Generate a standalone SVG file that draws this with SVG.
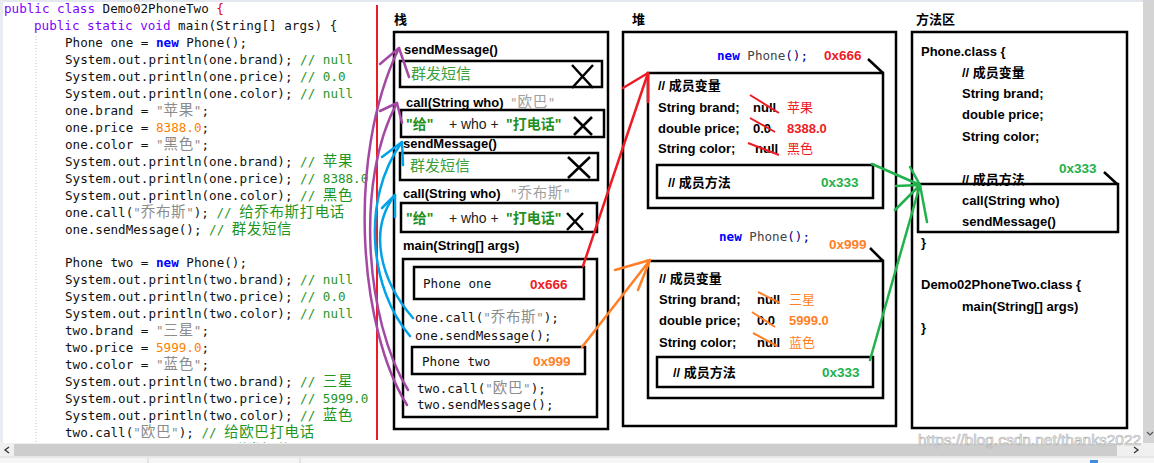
<svg xmlns="http://www.w3.org/2000/svg" width="1154" height="463" viewBox="0 0 1154 463">
<defs>
<style>
.code{font-family:"DejaVu Sans Mono","Liberation Mono","Noto Sans CJK SC",monospace;font-size:12.6px;fill:#111;}
.kw{fill:#8000ff}
.nw{fill:#0000ff;font-weight:bold}
.str{fill:#8c8c8c}
.gstr{fill:#a0a0a0}
.num{fill:#ff8000}
.cm{fill:#1f961f}
.cj{font-family:"Noto Sans CJK SC",sans-serif;font-size:14.5px;letter-spacing:0.6px}
.lbl{font-family:"Liberation Sans","Noto Sans CJK SC",sans-serif;font-size:13px;font-weight:bold;fill:#000}
.box{fill:none;stroke:#000;stroke-width:2.5}
.addr{font-family:"Liberation Sans",sans-serif;font-size:13.5px;font-weight:bold}
.cross{stroke:#000;stroke-width:2.5;fill:none}
.conn{fill:none;stroke-width:2.5;stroke-linecap:round;stroke-linejoin:round}
</style>
</defs>
<rect width="1154" height="463" fill="#fff"/>
<rect x="0" y="0" width="1154" height="2" fill="#e3e8ef"/>
<rect x="0" y="0" width="3" height="443" fill="#e8ecf2"/>
<line x1="36" y1="36" x2="36" y2="443" stroke="#c8c8c8" stroke-dasharray="1 2"/>

<g id="code">
<text class="code" x="4" y="13"><tspan class="kw">public class</tspan> Demo02PhoneTwo <tspan fill="#e00000" style="fill:#e00000">{</tspan></text>
<text class="code" x="34" y="30"><tspan class="kw">public static void</tspan> main(String[] args) {</text>
<text class="code" x="65" y="47">Phone one = <tspan class="nw">new</tspan> Phone();</text>
<text class="code" x="65" y="64">System.out.println(one.brand); <tspan class="cm">// null</tspan></text>
<text class="code" x="65" y="81">System.out.println(one.price); <tspan class="cm">// 0.0</tspan></text>
<text class="code" x="65" y="98">System.out.println(one.color); <tspan class="cm">// null</tspan></text>
<text class="code" x="65" y="115">one.brand = <tspan class="str">"<tspan class="cj">苹果</tspan>"</tspan>;</text>
<text class="code" x="65" y="132">one.price = <tspan class="num">8388.0</tspan>;</text>
<text class="code" x="65" y="149">one.color = <tspan class="str">"<tspan class="cj">黑色</tspan>"</tspan>;</text>
<text class="code" x="65" y="166">System.out.println(one.brand); <tspan class="cm">// <tspan class="cj">苹果</tspan></tspan></text>
<text class="code" x="65" y="182.5">System.out.println(one.price); <tspan class="cm">// 8388.0</tspan></text>
<text class="code" x="65" y="199.5">System.out.println(one.color); <tspan class="cm">// <tspan class="cj">黑色</tspan></tspan></text>
<text class="code" x="65" y="216.5">one.call(<tspan class="str">"<tspan class="cj">乔布斯</tspan>"</tspan>); <tspan class="cm">// <tspan class="cj">给乔布斯打电话</tspan></tspan></text>
<text class="code" x="65" y="233.5">one.sendMessage(); <tspan class="cm">// <tspan class="cj">群发短信</tspan></tspan></text>
<text class="code" x="65" y="267">Phone two = <tspan class="nw">new</tspan> Phone();</text>
<text class="code" x="65" y="284">System.out.println(two.brand); <tspan class="cm">// null</tspan></text>
<text class="code" x="65" y="301">System.out.println(two.price); <tspan class="cm">// 0.0</tspan></text>
<text class="code" x="65" y="318">System.out.println(two.color); <tspan class="cm">// null</tspan></text>
<text class="code" x="65" y="335">two.brand = <tspan class="str">"<tspan class="cj">三星</tspan>"</tspan>;</text>
<text class="code" x="65" y="352">two.price = <tspan class="num">5999.0</tspan>;</text>
<text class="code" x="65" y="369">two.color = <tspan class="str">"<tspan class="cj">蓝色</tspan>"</tspan>;</text>
<text class="code" x="65" y="386">System.out.println(two.brand); <tspan class="cm">// <tspan class="cj">三星</tspan></tspan></text>
<text class="code" x="65" y="403">System.out.println(two.price); <tspan class="cm">// 5999.0</tspan></text>
<text class="code" x="65" y="420">System.out.println(two.color); <tspan class="cm">// <tspan class="cj">蓝色</tspan></tspan></text>
<text class="code" x="65" y="437">two.call(<tspan class="str">"<tspan class="cj">欧巴</tspan>"</tspan>); <tspan class="cm">// <tspan class="cj">给欧巴打电话</tspan></tspan></text>
<text class="code" x="65" y="455">two.sendMessage(); <tspan class="cm">// <tspan class="cj">群发短信</tspan></tspan></text>
</g>

<line x1="377" y1="5" x2="377" y2="440" stroke="#ed1c24" stroke-width="2"/>

<g id="stack">
<text class="lbl" x="394" y="24">栈</text>
<rect class="box" x="394" y="32" width="214" height="397"/>
<text class="lbl" x="404" y="54">sendMessage()</text>
<rect class="box" x="400" y="61" width="202" height="26"/>
<text x="411" y="79" font-family="Noto Sans CJK SC,sans-serif" font-size="15" fill="#3ca03c">群发短信</text>
<path class="cross" d="M572,65 L593,88 M593,65 L572,88"/>
<text class="lbl" x="406" y="107">call(String who)</text>
<text class="code gstr" x="510" y="107">"<tspan class="cj">欧巴</tspan>"</text>
<rect class="box" x="401" y="110" width="203" height="27"/>
<text x="406" y="129" font-family="Liberation Sans,Noto Sans CJK SC,sans-serif" font-size="14" fill="#222"><tspan font-weight="bold" fill="#1f8f1f">"给"</tspan><tspan x="445"> + who +</tspan><tspan x="506" font-weight="bold" fill="#1f8f1f">"打电话"</tspan></text>
<path class="cross" d="M574,117 L592,135 M592,117 L574,135"/>
<text class="lbl" x="403" y="148">sendMessage()</text>
<rect class="box" x="400" y="153" width="198" height="27"/>
<text x="410" y="171" font-family="Noto Sans CJK SC,sans-serif" font-size="15" fill="#3ca03c">群发短信</text>
<path class="cross" d="M568,157 L590,178 M590,157 L568,178"/>
<text class="lbl" x="403" y="198">call(String who)</text>
<text class="code gstr" x="510" y="198">"<tspan class="cj">乔布斯</tspan>"</text>
<rect class="box" x="401" y="203" width="196" height="29"/>
<text x="406" y="223" font-family="Liberation Sans,Noto Sans CJK SC,sans-serif" font-size="14" fill="#222"><tspan font-weight="bold" fill="#1f8f1f">"给"</tspan><tspan x="445"> + who +</tspan><tspan x="506" font-weight="bold" fill="#1f8f1f">"打电话"</tspan></text>
<path class="cross" d="M567,213 L583,230 M583,213 L567,230"/>
<text class="lbl" x="403" y="250">main(String[] args)</text>
<rect class="box" x="403" y="259" width="194" height="158"/>
<rect class="box" x="414" y="267" width="170" height="32"/>
<text class="code" x="423" y="288">Phone one</text>
<text class="addr" x="530" y="289" fill="#ed1c24">0x666</text>
<text class="code" x="415" y="322">one.call(<tspan class="str">"<tspan class="cj">乔布斯</tspan>"</tspan>);</text>
<text class="code" x="415" y="340">one.sendMessage();</text>
<rect class="box" x="412" y="347" width="173" height="27"/>
<text class="code" x="422" y="366">Phone two</text>
<text class="addr" x="533" y="366" fill="#ff7f27">0x999</text>
<text class="code" x="417" y="393">two.call(<tspan class="str">"<tspan class="cj">欧巴</tspan>"</tspan>);</text>
<text class="code" x="417" y="409">two.sendMessage();</text>
</g>

<g id="heap">
<text class="lbl" x="632" y="24">堆</text>
<rect class="box" x="623" y="32" width="273" height="394"/>
</g>

<g id="heap-object-one">
<text class="code" x="717" y="60"><tspan class="nw">new</tspan> <tspan style="fill:#444">Phone</tspan><tspan style="fill:#000080">();</tspan></text>
<text class="addr" x="824" y="60" fill="#ed1c24">0x666</text>
<line x1="868" y1="59" x2="883" y2="73" stroke="#000" stroke-width="2.5"/>
<rect class="box" x="648" y="73" width="235" height="135"/>
<text class="lbl" x="658" y="90">// 成员变量</text>
<text class="lbl" x="658" y="112">String brand;</text>
<text class="lbl" x="753" y="112">null</text>
<text class="lbl" x="787" y="112" style="font-weight:normal;fill:#ed1c24">苹果</text>
<text class="lbl" x="658" y="133">double price;</text>
<text class="lbl" x="753" y="133">0.0</text>
<text class="lbl" x="787" y="133" style="fill:#ed1c24">8388.0</text>
<text class="lbl" x="658" y="153">String color;</text>
<text class="lbl" x="755" y="153">null</text>
<text class="lbl" x="787" y="153" style="font-weight:normal;fill:#ed1c24">黑色</text>
<path d="M750,95 L779,113 M750,118 L775,132 M748,143 L779,155" stroke="#ed1c24" stroke-width="2" fill="none"/>
<rect class="box" x="657" y="165" width="216" height="33"/>
<text class="lbl" x="668" y="187">// 成员方法</text>
<text class="addr" x="821" y="187" fill="#22b14c">0x333</text>
</g>

<g id="heap-object-two">
<text class="code" x="719" y="241"><tspan class="nw">new</tspan> <tspan style="fill:#444">Phone</tspan><tspan style="fill:#000080">();</tspan></text>
<text class="addr" x="829" y="249" fill="#ff7f27">0x999</text>
<line x1="870" y1="248" x2="883" y2="261" stroke="#000" stroke-width="2.5"/>
<rect class="box" x="648" y="261" width="235" height="137"/>
<text class="lbl" x="659" y="283">// 成员变量</text>
<text class="lbl" x="659" y="304">String brand;</text>
<text class="lbl" x="757" y="304">null</text>
<text class="lbl" x="789" y="304" style="font-weight:normal;fill:#ff7f27">三星</text>
<text class="lbl" x="659" y="325">double price;</text>
<text class="lbl" x="757" y="325">0.0</text>
<text class="lbl" x="789" y="325" style="fill:#ff7f27">5999.0</text>
<text class="lbl" x="659" y="347">String color;</text>
<text class="lbl" x="757" y="347">null</text>
<text class="lbl" x="789" y="347" style="font-weight:normal;fill:#ff7f27">蓝色</text>
<path d="M758,292 L780,303 M752,312 L775,327 M753,333 L777,346" stroke="#ff7f27" stroke-width="2" fill="none"/>
<rect class="box" x="657" y="357" width="216" height="30"/>
<text class="lbl" x="673" y="377">// 成员方法</text>
<text class="addr" x="822" y="377" fill="#22b14c">0x333</text>
</g>

<g id="method-area">
<text class="lbl" x="916" y="24">方法区</text>
<rect class="box" x="912" y="32" width="215" height="396"/>
<text class="lbl" x="921" y="56">Phone.class {</text>
<text class="lbl" x="962" y="77">// 成员变量</text>
<text class="lbl" x="962" y="98">String brand;</text>
<text class="lbl" x="962" y="119">double price;</text>
<text class="lbl" x="962" y="141">String color;</text>
<text class="lbl" x="962" y="184">// 成员方法</text>
<text class="addr" x="1059" y="173" fill="#22b14c">0x333</text>
<line x1="1104" y1="172" x2="1117" y2="184" stroke="#000" stroke-width="2.5"/>
<rect class="box" x="918" y="184" width="200" height="48"/>
<text class="lbl" x="962" y="205">call(String who)</text>
<text class="lbl" x="962" y="226">sendMessage()</text>
<text class="lbl" x="921" y="247">}</text>
<text class="lbl" x="921" y="289">Demo02PhoneTwo.class {</text>
<text class="lbl" x="962" y="311">main(String[] args)</text>
<text class="lbl" x="921" y="332">}</text>
</g>

<g id="connectors">
<path class="conn" stroke="#a349a4" d="M407,405 C360,330 345,160 399,48"/>
<polyline class="conn" stroke="#a349a4" points="380,64 399,48 409,77"/>
<path class="conn" stroke="#a349a4" d="M408,390 C365,320 355,180 397,103"/>
<polyline class="conn" stroke="#a349a4" points="380,111 397,103 402,123"/>
<path class="conn" stroke="#00a2e8" d="M410,336 C370,290 360,200 402,142"/>
<polyline class="conn" stroke="#00a2e8" points="382,157 402,142 403,165"/>
<path class="conn" stroke="#00a2e8" d="M413,318 C380,280 368,230 395,195"/>
<polyline class="conn" stroke="#00a2e8" points="382,208 395,195 395,217"/>
<path class="conn" stroke="#ed1c24" d="M583,266 L648,73"/>
<polyline class="conn" stroke="#ed1c24" points="623,88 648,73 648,102"/>
<path class="conn" stroke="#ff7f27" d="M582,347 L650,260"/>
<polyline class="conn" stroke="#ff7f27" points="615,270 650,260 638,290"/>
<path class="conn" stroke="#22b14c" d="M872,164 L920,185 M870,360 L920,185 M910,167 L920,185 M896,186 L920,185 M895,210 L920,185 M927,222 L920,185"/>
</g>

<g id="window-chrome">
<rect x="1143" y="0" width="11" height="443" fill="#d4d4d4"/>
<polyline points="1147,432 1150,435 1153,432" fill="none" stroke="#555" stroke-width="1.2"/>
<rect x="0" y="443" width="1154" height="14" fill="#f0f0f0"/>
<rect x="14" y="444" width="1103" height="12" fill="#cdcdcd"/>
<polyline points="9,447 5,450 9,453" fill="none" stroke="#333" stroke-width="1.3"/>
<polyline points="1134,447 1138,450 1134,453" fill="none" stroke="#333" stroke-width="1.3"/>
<rect x="0" y="457" width="1154" height="6" fill="#f5f5f5"/>
<line x1="0" y1="457" x2="1154" y2="457" stroke="#dcdcdc"/>
<line x1="148" y1="458" x2="148" y2="463" stroke="#d0d0d0"/>
<line x1="300" y1="458" x2="300" y2="463" stroke="#d0d0d0"/>
<rect x="1090" y="460" width="8" height="3" fill="#3c8ce0"/>
</g>

<text x="918" y="445" font-family="Liberation Sans,sans-serif" font-size="15.5" fill="#fff" fill-opacity="0.85" stroke="#b4b4b4" stroke-width="0.7">https://blog.csdn.net/thanks2022</text>
</svg>
